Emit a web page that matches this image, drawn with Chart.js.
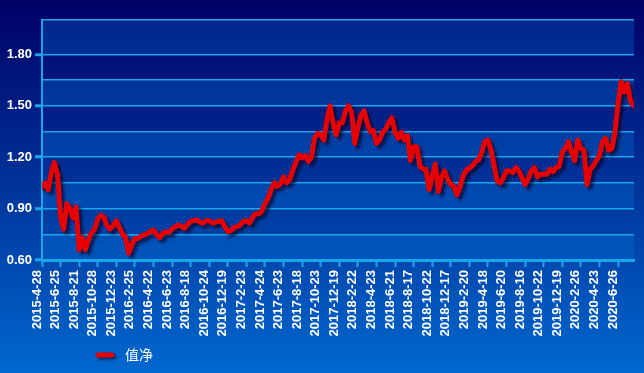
<!DOCTYPE html>
<html>
<head>
<meta charset="utf-8">
<script src="https://cdn.jsdelivr.net/npm/chart.js@4.4.1/dist/chart.umd.min.js"></script>
<style>
  html, body { margin: 0; padding: 0; background: #000066; }
  canvas { display: block; }
</style>
</head>
<body>
<canvas id="navChart" width="644" height="373"></canvas>
<script>
// tick labels on the date axis, one every POINTS_PER_DATE samples
const DATES = [
  "2015-4-28", "2015-6-25", "2015-8-21", "2015-10-28", "2015-12-23",
  "2016-2-25", "2016-4-22", "2016-6-23", "2016-8-18", "2016-10-24",
  "2016-12-19", "2017-2-23", "2017-4-24", "2017-6-23", "2017-8-18",
  "2017-10-23", "2017-12-19", "2018-2-22", "2018-4-23", "2018-6-21",
  "2018-8-17", "2018-10-22", "2018-12-17", "2019-2-20", "2019-4-18",
  "2019-6-20", "2019-8-16", "2019-10-22", "2019-12-19", "2020-2-26",
  "2020-4-23", "2020-6-26",
];
const POINTS_PER_DATE = 6;

// net value
const NAV = [
  1.03, 1.05, 1.01, 1.11, 1.17, 1.10, 0.85, 0.78, 0.93, 0.90,
  0.845, 0.91, 0.66, 0.73, 0.66, 0.72, 0.76, 0.78, 0.84, 0.86,
  0.85, 0.80, 0.78, 0.80, 0.83, 0.79, 0.75, 0.73, 0.64, 0.69,
  0.725, 0.725, 0.74, 0.745, 0.755, 0.765, 0.775, 0.75, 0.73, 0.755,
  0.765, 0.76, 0.78, 0.795, 0.805, 0.795, 0.785, 0.81, 0.825, 0.83,
  0.835, 0.82, 0.815, 0.83, 0.83, 0.815, 0.82, 0.825, 0.83, 0.795,
  0.765, 0.77, 0.79, 0.795, 0.805, 0.825, 0.83, 0.815, 0.85, 0.87,
  0.87, 0.885, 0.93, 0.96, 1.01, 1.05, 1.03, 1.045, 1.085, 1.05,
  1.07, 1.125, 1.17, 1.215, 1.195, 1.21, 1.175, 1.20, 1.31, 1.34,
  1.33, 1.30, 1.42, 1.50, 1.40, 1.33, 1.40, 1.40, 1.47, 1.50,
  1.46, 1.28, 1.37, 1.445, 1.47, 1.40, 1.35, 1.355, 1.28, 1.30,
  1.345, 1.365, 1.40, 1.43, 1.345, 1.31, 1.345, 1.30, 1.325, 1.18,
  1.26, 1.26, 1.15, 1.13, 1.13, 1.01, 1.09, 1.16, 1.00, 1.085,
  1.12, 1.07, 1.04, 1.03, 0.98, 1.03, 1.09, 1.125, 1.135, 1.15,
  1.175, 1.185, 1.23, 1.29, 1.30, 1.24, 1.15, 1.06, 1.05, 1.08,
  1.12, 1.12, 1.11, 1.14, 1.12, 1.08, 1.04, 1.075, 1.12, 1.14,
  1.085, 1.10, 1.10, 1.10, 1.13, 1.115, 1.14, 1.145, 1.23, 1.25,
  1.29, 1.23, 1.18, 1.30, 1.25, 1.24, 1.04, 1.13, 1.15, 1.18,
  1.21, 1.29, 1.31, 1.24, 1.25, 1.34, 1.51, 1.64, 1.58, 1.63,
  1.53, 1.50,
];

// value axis: grid every 0.15, labels every 0.30, top edge at 2.0
const Y_TICKS = [0.6, 0.75, 0.9, 1.05, 1.2, 1.35, 1.5, 1.65, 1.8, 2.0];
const Y_LABELS = ["0.60", "0.90", "1.20", "1.50", "1.80"];
const SERIES_NAME = "值净";

const CYAN = "#1aa6ea";
const LINE_RED = "#e60000";
const LABEL_FONT = "Arial, 'Liberation Sans', sans-serif";

const yLabelFor = (v) => Y_LABELS.find((s) => Math.abs(parseFloat(s) - v) < 1e-6);

// page gradient + alternating bands in the plot area
const backdropPlugin = {
  id: "backdrop",
  beforeDraw(chart) {
    const { ctx, width, height, chartArea, scales } = chart;
    ctx.save();
    const bg = ctx.createLinearGradient(0, 0, 0, height);
    bg.addColorStop(0, "#000066");
    bg.addColorStop(1, "#0068cf");
    ctx.fillStyle = bg;
    ctx.fillRect(0, 0, width, height);

    ctx.fillStyle = "rgba(0, 120, 220, 0.30)";
    for (let i = 0; i < Y_TICKS.length - 1; i += 2) {
      const y1 = scales.y.getPixelForValue(Y_TICKS[i]);
      const y2 = scales.y.getPixelForValue(Y_TICKS[i + 1]);
      ctx.fillRect(chartArea.left, y2, chartArea.right - chartArea.left, y1 - y2);
    }
    ctx.restore();
  },
};

// drop shadow under the series line
const shadowPlugin = {
  id: "lineShadow",
  beforeDatasetsDraw(chart) {
    const { ctx } = chart;
    ctx.save();
    ctx.shadowColor = "rgba(0, 0, 30, 0.65)";
    ctx.shadowBlur = 3;
    ctx.shadowOffsetX = 3;
    ctx.shadowOffsetY = 3;
  },
  afterDatasetsDraw(chart) {
    chart.ctx.restore();
  },
};

// legend at the lower left
const legendPlugin = {
  id: "navLegend",
  afterDraw(chart) {
    const { ctx } = chart;
    const y = 355;
    ctx.save();
    ctx.shadowColor = "rgba(0, 0, 30, 0.6)";
    ctx.shadowBlur = 3;
    ctx.shadowOffsetX = 2;
    ctx.shadowOffsetY = 2;
    ctx.strokeStyle = LINE_RED;
    ctx.lineWidth = 5;
    ctx.lineCap = "round";
    ctx.beginPath();
    ctx.moveTo(98, y);
    ctx.lineTo(112, y);
    ctx.stroke();
    ctx.restore();

    ctx.save();
    ctx.fillStyle = "#ffffff";
    ctx.font = "14px 'Noto Sans CJK SC', sans-serif";
    ctx.textBaseline = "middle";
    ctx.fillText(SERIES_NAME, 125, y);
    ctx.restore();
  },
};

new Chart(document.getElementById("navChart"), {
  type: "line",
  data: {
    datasets: [
      {
        label: SERIES_NAME,
        data: NAV.map((v, i) => ({ x: i / POINTS_PER_DATE, y: v })),
        borderColor: LINE_RED,
        borderWidth: 5,
        borderJoinStyle: "round",
        borderCapStyle: "round",
        pointRadius: 0,
        tension: 0,
        fill: false,
      },
    ],
  },
  options: {
    responsive: false,
    animation: false,
    layout: { padding: { top: 20, right: 10, left: 0, bottom: 0 } },
    plugins: {
      legend: { display: false },
      tooltip: { enabled: false },
    },
    scales: {
      x: {
        type: "linear",
        min: 0,
        max: 31.86,
        afterBuildTicks: (scale) => {
          scale.ticks = DATES.map((_, i) => ({ value: i }));
        },
        afterFit: (scale) => {
          scale.height = 113;
        },
        grid: {
          drawOnChartArea: false,
          drawTicks: true,
          tickLength: 7,
          tickWidth: 2,
          tickColor: CYAN,
        },
        border: { display: true, color: CYAN, width: 3 },
        ticks: {
          autoSkip: false,
          minRotation: 90,
          maxRotation: 90,
          padding: 3,
          labelOffset: -5,
          color: "#ffffff",
          font: { family: LABEL_FONT, size: 13, weight: "bold" },
          callback: (v) => DATES[v] ?? "",
        },
      },
      y: {
        min: 0.6,
        max: 2.0,
        afterBuildTicks: (scale) => {
          scale.ticks = Y_TICKS.map((v) => ({ value: v }));
        },
        afterFit: (scale) => {
          scale.width = 42;
        },
        grid: {
          color: CYAN,
          lineWidth: 1.5,
          tickLength: 7,
          tickWidth: 3,
          tickColor: (ctx) => (yLabelFor(ctx.tick.value) ? CYAN : "rgba(0,0,0,0)"),
        },
        border: { display: true, color: CYAN, width: 2 },
        ticks: {
          padding: 3,
          color: "#ffffff",
          font: { family: LABEL_FONT, size: 13, weight: "bold" },
          callback: (v) => yLabelFor(v) ?? "",
        },
      },
    },
  },
  plugins: [backdropPlugin, shadowPlugin, legendPlugin],
});
</script>
</body>
</html>
